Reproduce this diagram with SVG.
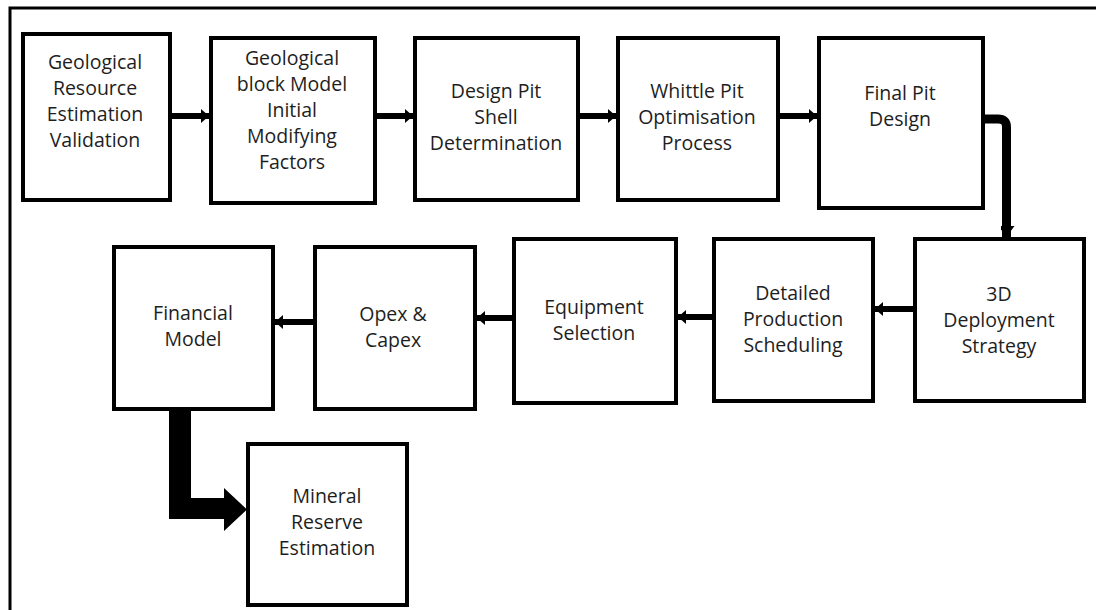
<svg xmlns="http://www.w3.org/2000/svg" width="1096" height="610" viewBox="0 0 1096 610">
<style>
.bx{fill:#fff;stroke:#000;stroke-width:4}
.t{font-family:"Open Sans","Noto Sans","DejaVu Sans",sans-serif;font-size:19.5px;fill:#1e1e1e;text-anchor:middle}
.c{stroke:#000;stroke-width:6;fill:none}
</style>
<defs>
<marker id="ah" markerUnits="userSpaceOnUse" markerWidth="10" markerHeight="16" refX="8" refY="8" orient="auto">
<path d="M0,1 L8,8 L0,15 Z" fill="#000"/>
</marker>
<marker id="ahb" markerUnits="userSpaceOnUse" markerWidth="18" markerHeight="14" refX="11" refY="8" orient="auto">
<path d="M0,0 L11,8 L0,16 Z" fill="#000"/>
</marker>
</defs>
<rect width="1096" height="610" fill="#fff"/>
<rect x="10" y="8" width="1120" height="640" fill="none" stroke="#000" stroke-width="3"/>

<g id="connectors">
<line class="c" x1="172" y1="116" x2="209" y2="116" marker-end="url(#ah)"/>
<line class="c" x1="377" y1="116" x2="413" y2="116" marker-end="url(#ah)"/>
<line class="c" x1="580" y1="116" x2="616" y2="116" marker-end="url(#ah)"/>
<line class="c" x1="780" y1="116" x2="817" y2="116" marker-end="url(#ah)"/>
<path d="M985,119 L998,119 Q1006.5,119 1006.5,127 L1006.5,237" stroke="#000" stroke-width="9" fill="none" marker-end="url(#ahb)"/>
<line class="c" x1="913" y1="309" x2="875" y2="309" marker-end="url(#ah)"/>
<line class="c" x1="712" y1="317" x2="678" y2="317" marker-end="url(#ah)"/>
<line class="c" x1="512" y1="318" x2="477" y2="318" marker-end="url(#ah)"/>
<line class="c" x1="313" y1="322" x2="275" y2="322" marker-end="url(#ah)"/>
<path d="M169,411 L191,411 L191,498 L224,498 L224,488 L247,509.5 L224,531 L224,519 L169,519 Z" fill="#000"/>
</g>

<g id="n1"><rect class="bx" x="23" y="34" width="147" height="166"/>
<text class="t" x="95"><tspan x="95" y="69">Geological</tspan><tspan x="95" y="95">Resource</tspan><tspan x="95" y="121">Estimation</tspan><tspan x="95" y="147">Validation</tspan></text></g>

<g id="n2"><rect class="bx" x="211" y="38" width="164" height="165"/>
<text class="t"><tspan x="292" y="65">Geological</tspan><tspan x="292" y="91">block Model</tspan><tspan x="292" y="117">Initial</tspan><tspan x="292" y="143">Modifying</tspan><tspan x="292" y="169">Factors</tspan></text></g>

<g id="n3"><rect class="bx" x="415" y="38" width="163" height="162"/>
<text class="t"><tspan x="496" y="98">Design Pit</tspan><tspan x="496" y="124">Shell</tspan><tspan x="496" y="150">Determination</tspan></text></g>

<g id="n4"><rect class="bx" x="618" y="38" width="160" height="162"/>
<text class="t"><tspan x="697" y="98">Whittle Pit</tspan><tspan x="697" y="124">Optimisation</tspan><tspan x="697" y="150">Process</tspan></text></g>

<g id="n5"><rect class="bx" x="819" y="38" width="164" height="170"/>
<text class="t"><tspan x="900" y="100">Final Pit</tspan><tspan x="900" y="126">Design</tspan></text></g>

<g id="n6"><rect class="bx" x="915" y="239" width="169" height="162"/>
<text class="t"><tspan x="999" y="301">3D</tspan><tspan x="999" y="327">Deployment</tspan><tspan x="999" y="353">Strategy</tspan></text></g>

<g id="n7"><rect class="bx" x="714" y="239" width="159" height="162"/>
<text class="t"><tspan x="793" y="300">Detailed</tspan><tspan x="793" y="326">Production</tspan><tspan x="793" y="352">Scheduling</tspan></text></g>

<g id="n8"><rect class="bx" x="514" y="239" width="162" height="164"/>
<text class="t"><tspan x="594" y="314">Equipment</tspan><tspan x="594" y="340">Selection</tspan></text></g>

<g id="n9"><rect class="bx" x="315" y="247" width="160" height="162"/>
<text class="t"><tspan x="393" y="321">Opex &amp;</tspan><tspan x="393" y="347">Capex</tspan></text></g>

<g id="n10"><rect class="bx" x="114" y="247" width="159" height="162"/>
<text class="t"><tspan x="193" y="320">Financial</tspan><tspan x="193" y="346">Model</tspan></text></g>

<g id="n11"><rect class="bx" x="248" y="444" width="159" height="161"/>
<text class="t"><tspan x="327" y="503">Mineral</tspan><tspan x="327" y="529">Reserve</tspan><tspan x="327" y="555">Estimation</tspan></text></g>
</svg>
